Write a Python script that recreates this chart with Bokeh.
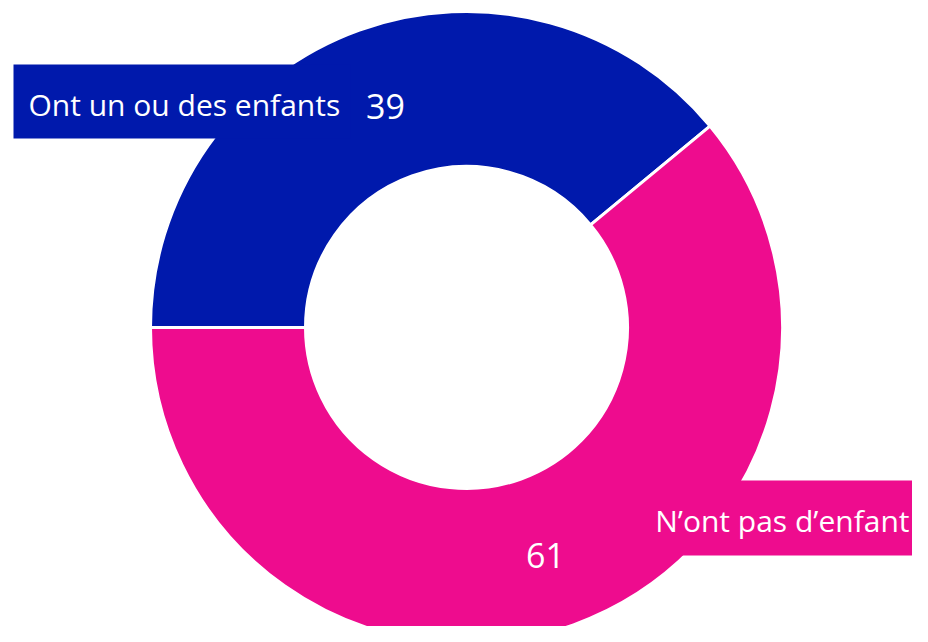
import math
from bokeh.plotting import figure
from bokeh.models import Range1d, ColumnDataSource
from bokeh.core.properties import value
from bokeh.embed import file_html
from bokeh.resources import INLINE

categories = ["Ont un ou des enfants", "N\u2019ont pas d\u2019enfant"]
values = [39, 61]
colors = ["#0019AC", "#EE0C8E"]

W, H = 912, 626
p = figure(width=W, height=H, output_backend="svg", toolbar_location=None,
           x_range=Range1d(0, W), y_range=Range1d(0, H), min_border=0)
p.axis.visible = False
p.grid.visible = False
p.outline_line_color = None
p.background_fill_color = "white"


def Y(py):
    return H - py


cx, cy = 466, Y(327)
r_out, r_in = 316, 161

total = sum(values)
starts, ends = [], []
acc = 0
for v in values:
    a1 = math.pi - 2 * math.pi * acc / total
    acc += v
    a0 = math.pi - 2 * math.pi * acc / total
    starts.append(a0)
    ends.append(a1)

src = ColumnDataSource(dict(start=starts, end=ends, color=colors))
p.annular_wedge(x=cx, y=cy, inner_radius=r_in, outer_radius=r_out,
                start_angle="start", end_angle="end", fill_color="color",
                line_color="white", line_width=3, source=src)

# label boxes
p.quad(left=[13, 640], right=[350, 912], bottom=[Y(138), Y(555)],
       top=[Y(64), Y(480)], fill_color=colors, line_color=None)

font = value("Open Sans")
p.text(x=[28], y=[Y(104)], text=[categories[0]], text_color="white",
       text_font=font, text_font_size="30px", text_baseline="alphabetic")
p.text(x=[909], y=[Y(520)], text=[categories[1]], text_color="white",
       text_font=font, text_font_size="30px", text_baseline="alphabetic",
       text_align="right")
p.text(x=[385, 545], y=[Y(106), Y(555)], text=[str(v) for v in values],
       text_color="white", text_font=font, text_font_size="34px",
       text_baseline="alphabetic", text_align="center")

open("out.html", "w").write(file_html(p, INLINE))
